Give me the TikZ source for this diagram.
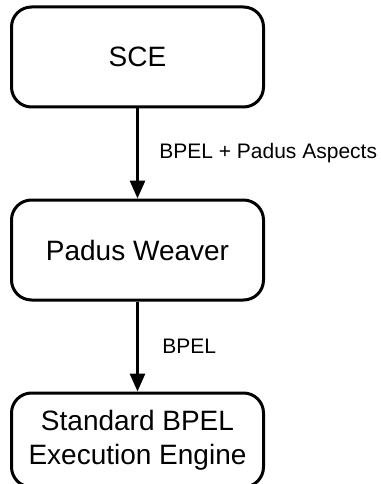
\documentclass[tikz,border=0pt]{standalone}
\usepackage{fontspec}
\setmainfont{Liberation Sans}
\usetikzlibrary{positioning,arrows.meta}

\begin{document}
\begin{tikzpicture}[
    x=1pt, y=-1pt,
    node distance=90pt,
    stagebox/.style={
        draw=black, rounded corners=20pt, line width=3pt,
        minimum width=252pt, minimum height=100pt, align=center,
        font=\fontsize{28}{34}\selectfont
      },
    flowlbl/.style={
        right, font=\fontsize{21}{25}\selectfont
      },
  ]
  \useasboundingbox (0,0) rectangle (380,484);
  \node[stagebox](sce) at (137.5,57) {SCE};
  \node[stagebox](weaver) [below=of sce] {Padus Weaver};
  \node[stagebox, minimum height=94pt](engine) [below=of weaver] {Standard BPEL\\Execution Engine};

  \path[-{Triangle[length=18pt,width=15pt]}, draw=black, line width=3pt]
    (sce) edge node[flowlbl, pos=0.5, xshift=17pt] {BPEL + Padus Aspects} (weaver)
    (weaver) edge node[flowlbl, pos=0.5, xshift=20pt] {BPEL} (engine)
  ;
\end{tikzpicture}
\end{document}
